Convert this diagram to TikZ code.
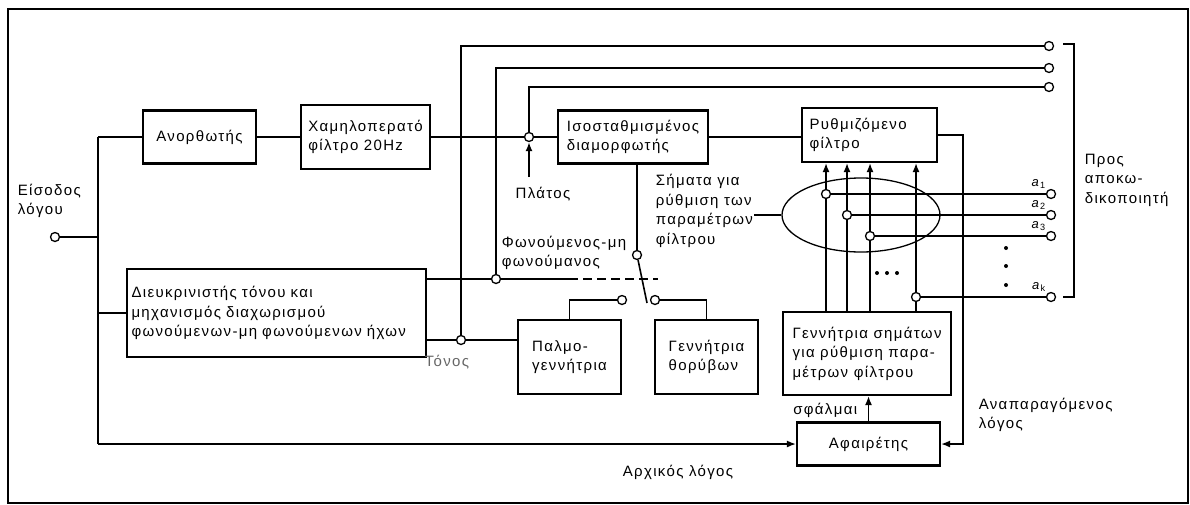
\documentclass[tikz,border=0pt]{standalone}
\usepackage{fontspec}
\setmainfont{Liberation Sans}[LetterSpace=9]
\usetikzlibrary{arrows.meta,positioning,shapes.geometric}

\begin{document}
\begin{tikzpicture}[
  x=1pt, y=-1pt,
  font=\fontsize{15}{19.5}\selectfont,
  line width=1.6pt,
  box/.style={rectangle, draw, line width=2.1pt, align=left, inner sep=3pt},
  term/.style={circle, draw, fill=white, line width=1.3pt, inner sep=0pt, minimum size=9pt},
  lbl/.style={align=left, inner sep=0pt},
  arr/.style={-{Latex[length=9pt,width=7pt]}}
]
\useasboundingbox (0,0) rectangle (1190,504);
\draw (8,9) rectangle (1188,503);

\node[box, minimum width=113, minimum height=53] (rect) at (199.5,137) {Ανορθωτής};
\node[box, minimum width=129, minimum height=64] (lpf) at (365.5,137) {Χαμηλοπερατό\\φίλτρο 20Hz};
\node[box, minimum width=150, minimum height=53] (mod) at (633,137) {Ισοσταθμισμένος\\διαμορφωτής};
\node[box, minimum width=135, minimum height=54, text width=120] (filt) at (869.5,135) {Ρυθμιζόμενο\\φίλτρο};
\node[box, minimum width=299, minimum height=88, text width=290] (disc) at (276.5,313)
  {Διευκρινιστής τόνου και\\μηχανισμός διαχωρισμού\\φωνούμενων-μη φωνούμενων ήχων};
\node[box, minimum width=103, minimum height=74] (pulse) at (569.5,357) {Παλμο-\\γεννήτρια};
\node[box, minimum width=103, minimum height=74] (noise) at (706.5,357) {Γεννήτρια\\θορύβων};
\node[box, minimum width=168, minimum height=83] (gen) at (867,353.5)
  {Γεννήτρια σημάτων\\για ρύθμιση παρα-\\μέτρων φίλτρου};
\node[box, minimum width=143, minimum height=43] (sub) at (868.5,444) {Αφαιρέτης};

\node[ellipse, draw, line width=1.3pt, minimum width=158, minimum height=74] (ell) at (861,215) {};

\node[term] (in) at (55,237) {};
\node[term] (amp) at (529,137) {};
\node[term] (vu) at (496,279) {};
\node[term] (tone) at (461,340) {};
\node[term] (t1) at (1049,46) {};
\node[term] (t2) at (1049,68) {};
\node[term] (t3) at (1049,87) {};
\node[term] (sw) at (637,255) {};
\node[term] (ca) at (622,300) {};
\node[term] (cb) at (655,300) {};

\node[lbl, anchor=west] (inl) at (17,201) {Είσοδος\\λόγου};
\node[lbl] (platos) at (543,194) {Πλάτος};
\node[lbl, anchor=west] (vul) at (501,253) {Φωνούμενος-μη\\φωνούμανος};
\node[lbl, anchor=west] (sig) at (655,211) {Σήματα για\\ρύθμιση των\\παραμέτρων\\φίλτρου};
\node[lbl, text=black!60] (tonl) at (447,362) {Τόνος};
\node[lbl, anchor=east] (err) at (858,410) {σφάλμαι};
\node[lbl] (orig) at (678,472) {Αρχικός λόγος};
\node[lbl, anchor=west] (rec) at (978,415) {Αναπαραγόμενος\\λόγος};
\node[lbl, anchor=west] (dec) at (1084,180) {Προς\\αποκω-\\δικοποιητή};

\coordinate (bt) at (98,137);
\coordinate (bb) at (98,444);
\coordinate (pl) at (531,177);
\coordinate (vd) at (569,279);
\coordinate (ve) at (658,279);
\coordinate (swe) at (647,303);
\coordinate (bra) at (1074,44);
\coordinate (brb) at (1074,297);

\draw (bt) -- (bb);
\draw (in) -- (in -| bt);
\draw (bt) -- (rect);
\draw (rect) -- (lpf);
\draw (lpf) -- (amp) -- (mod);
\draw (mod.east) -- (mod.east -| filt.west);
\draw[arr] (amp |- pl) -- (amp);
\draw (amp) |- (t3);
\draw (vu) |- (t2);
\draw (tone) |- (t1);
\draw (bt |- disc.west) -- (disc.west);
\draw (disc.east |- vu) -- (vu) -- (vd);
\draw[dash pattern=on 9pt off 5pt] (vd) -- (ve);
\draw (disc.east |- tone) -- (tone) -- (pulse.west |- tone);
\draw (mod.south -| sw) -- (sw);
\draw (sw) -- (swe);
\draw (ca) -| (pulse.north);
\draw (cb) -| (noise.north);
\draw[arr] (filt.east) -- ++(25,0) |- (sub.east);
\draw[arr] (bb) -- (sub.west |- bb);
\draw[arr] (sub.north) -- (sub.north |- gen.south);
\draw (ell.west) -- (ell.west -| sig.east);

\foreach \n/\x/\y in {1/826/194, 2/847/215, 3/870/236, k/916/297} {
  \node[term] (j\n) at (\x,\y) {};
  \node[term] (a\n) at (1051,\y) {};
  \draw (gen.north -| j\n) -- (j\n);
  \draw[arr] (j\n) -- (filt.south -| j\n);
  \draw (j\n) -- (a\n);
  \node[font=\fontsize{13}{14}\selectfont, anchor=south east, inner sep=1pt] (l\n) at (a\n.north west) {\textit{a}\textsubscript{\n}};
}

\foreach \x in {877,887,897} \fill (\x,273) circle (2pt);
\foreach \y in {248,266,285} \fill (1006,\y) circle (2pt);

\draw ([xshift=-11pt]bra) -- (bra) -- (brb) -- ([xshift=-11pt]brb);
\end{tikzpicture}
\end{document}
